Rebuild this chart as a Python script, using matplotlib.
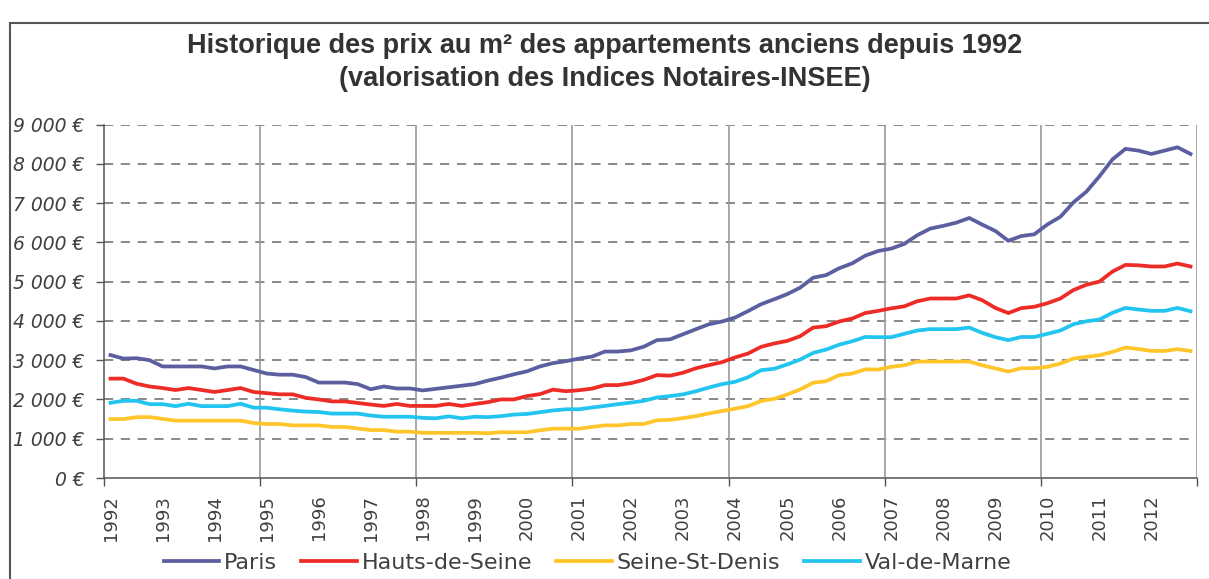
import numpy as np
import matplotlib.pyplot as plt
from matplotlib.patches import Rectangle

# quarterly values, 1992 Q1 -> 2012 Q4 (84 points)
years = list(range(1992, 2013))

paris = [3130, 3040, 3050, 3000, 2840, 2840, 2840, 2840, 2790, 2840, 2840, 2750,
         2660, 2630, 2630, 2570, 2430, 2430, 2430, 2390, 2260, 2330, 2280, 2280,
         2230, 2270, 2310, 2350, 2390, 2480, 2555, 2640, 2715, 2840, 2925, 2975,
         3040, 3090, 3220, 3220, 3250, 3345, 3510, 3530, 3660, 3790, 3915, 3985,
         4085, 4250, 4425, 4550, 4680, 4845, 5100, 5165, 5340, 5465, 5660, 5780,
         5840, 5960, 6180, 6350, 6420, 6500, 6620, 6450, 6290, 6040, 6160, 6205,
         6455, 6650, 7015, 7290, 7680, 8110, 8380, 8335, 8250, 8335, 8420, 8250]

hauts_de_seine = [2530, 2530, 2400, 2330, 2290, 2240, 2290, 2240, 2190, 2240, 2290, 2190,
                  2160, 2130, 2130, 2040, 2000, 1950, 1950, 1910, 1870, 1835, 1885, 1835,
                  1835, 1835, 1885, 1835, 1885, 1930, 2000, 2000, 2085, 2135, 2250, 2210,
                  2235, 2275, 2365, 2365, 2415, 2500, 2620, 2605, 2680, 2795, 2875, 2950,
                  3070, 3170, 3340, 3425, 3490, 3610, 3830, 3865, 3985, 4060, 4200, 4255,
                  4320, 4370, 4500, 4570, 4570, 4570, 4650, 4525, 4330, 4200, 4325, 4360,
                  4450, 4570, 4785, 4920, 5000, 5255, 5425, 5415, 5385, 5385, 5460, 5385]

seine_st_denis = [1500, 1500, 1550, 1550, 1505, 1460, 1460, 1460, 1460, 1460, 1460, 1400,
                  1375, 1375, 1340, 1340, 1340, 1300, 1300, 1260, 1220, 1220, 1180, 1180,
                  1150, 1150, 1150, 1150, 1150, 1140, 1165, 1165, 1165, 1215, 1255, 1255,
                  1255, 1300, 1340, 1340, 1375, 1375, 1470, 1480, 1525, 1575, 1645, 1705,
                  1765, 1830, 1960, 2015, 2125, 2255, 2425, 2465, 2620, 2660, 2765, 2760,
                  2830, 2870, 2965, 2965, 2965, 2965, 2965, 2870, 2790, 2710, 2795, 2795,
                  2830, 2915, 3040, 3085, 3125, 3210, 3320, 3285, 3235, 3235, 3280, 3235]

val_de_marne = [1915, 1965, 1965, 1880, 1880, 1830, 1890, 1830, 1830, 1830, 1890, 1790,
                1790, 1750, 1715, 1690, 1680, 1640, 1640, 1640, 1590, 1560, 1560, 1560,
                1530, 1520, 1570, 1520, 1560, 1550, 1575, 1615, 1630, 1675, 1720, 1750,
                1750, 1795, 1835, 1880, 1920, 1965, 2050, 2085, 2130, 2210, 2305, 2390,
                2450, 2565, 2745, 2780, 2890, 3015, 3185, 3270, 3395, 3480, 3590, 3585,
                3585, 3670, 3755, 3790, 3790, 3790, 3830, 3695, 3585, 3510, 3590, 3590,
                3670, 3755, 3915, 3990, 4035, 4205, 4330, 4290, 4255, 4255, 4330, 4245]

series = [("Paris", paris, "#5b5fa0"),
          ("Hauts-de-Seine", hauts_de_seine, "#ee2c27"),
          ("Seine-St-Denis", seine_st_denis, "#ffc52a"),
          ("Val-de-Marne", val_de_marne, "#22c4f0")]

fig = plt.figure(figsize=(12.09, 5.79), dpi=100)
ax = fig.add_axes([104/1209, 101/579, 1093/1209, 353.5/579])

x = np.arange(len(paris))
for name, vals, col in series:
    ax.plot(x, vals, color=col, lw=2.7, label=name, solid_joinstyle="round")

ax.set_xlim(-0.5, len(paris) - 0.5)
ax.set_ylim(0, 9000)

# horizontal dashed grid
for v in range(1000, 9001, 1000):
    ax.axhline(v, color="#6a6a6a", lw=1.1, dashes=(6, 5), zorder=0)
# vertical solid grid every 3 years
for b in np.arange(11.5, len(paris), 12):
    ax.axvline(b, color="#9a9a9a", lw=1.2, zorder=0)

ax.set_yticks(range(0, 9001, 1000))
ax.set_yticklabels([f"{v:,} €".replace(",", " ") if v else "0 €" for v in range(0, 9001, 1000)],
                   fontsize=13.5, style="italic", color="#404040")
ax.tick_params(axis="y", length=6, width=1, color="#555555", pad=8)

ax.set_xticks(np.arange(0, len(paris), 4))
ax.set_xticklabels([str(y) for y in years], rotation=90, fontsize=13, color="#404040")
ax.set_xticks(np.arange(-0.5, len(paris), 12), minor=True)
ax.tick_params(axis="x", which="major", length=0, pad=12)
ax.tick_params(axis="x", which="minor", length=6, width=1, color="#555555")

for s in ["top", "right"]:
    ax.spines[s].set_visible(False)
for s in ["left", "bottom"]:
    ax.spines[s].set_color("#555555")
    ax.spines[s].set_linewidth(1.1)

fig.text(0.500, 0.921, "Historique des prix au m² des appartements anciens depuis 1992",
         ha="center", va="center", fontsize=19.5, fontweight="bold", color="#333333",
         family="Liberation Sans")
fig.text(0.500, 0.864, "(valorisation des Indices Notaires-INSEE)",
         ha="center", va="center", fontsize=19.5, fontweight="bold", color="#333333",
         family="Liberation Sans")

leg = fig.legend(loc="center", bbox_to_anchor=(0.486, 0.028), ncol=4, frameon=False,
                 fontsize=16, handlelength=2.5, columnspacing=1.1, handletextpad=0.2)
for t in leg.get_texts():
    t.set_color("#404040")

# outer frame of the chart
fig.patches.append(Rectangle((10/1209, -0.1), 1.2, 1.1 - 23/579, transform=fig.transFigure,
                             fill=False, edgecolor="#555555", lw=1.5))

fig.savefig("out.png", dpi=100)
